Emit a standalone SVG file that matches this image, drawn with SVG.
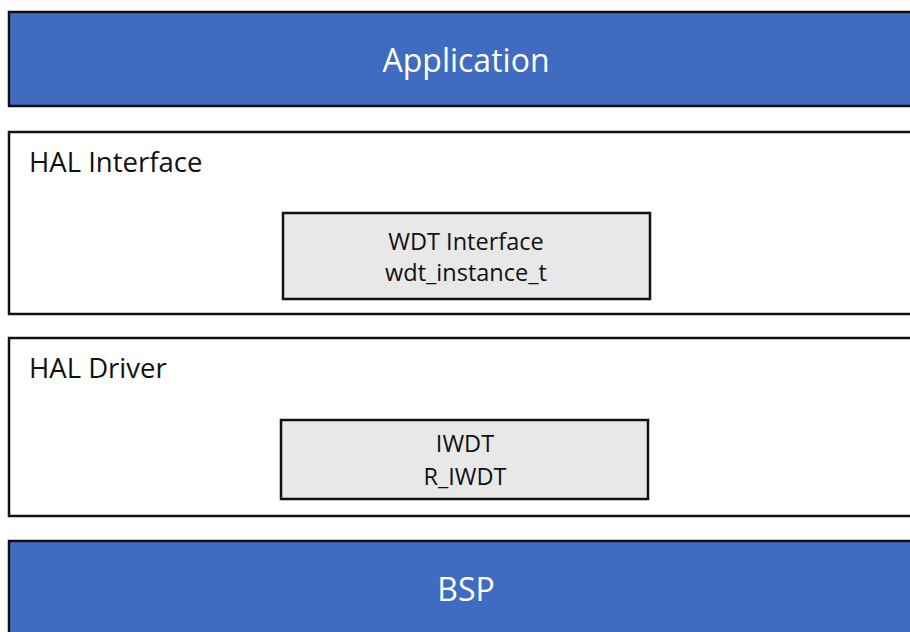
<svg xmlns="http://www.w3.org/2000/svg" width="910" height="632" viewBox="0 0 910 632">
<style>
.band{fill:#3f6cc1;stroke:#111;stroke-width:2.5}
.layer{fill:#fff;stroke:#111;stroke-width:2.5}
.mod{fill:#e8e8e8;stroke:#111;stroke-width:2.5}
text{font-family:"Open Sans","Noto Sans","Liberation Sans",sans-serif}
.bt{fill:#fff;font-size:32px;text-anchor:middle}
.lt{fill:#111;font-size:27.5px}
.mt{fill:#111;font-size:23.5px;text-anchor:middle}
</style>
<rect width="910" height="632" fill="#fff"/>
<g id="application">
<rect class="band" x="9" y="12" width="910" height="94"/>
<text class="bt" x="466" y="72">Application</text>
</g>
<g id="hal-interface">
<rect class="layer" x="9" y="132" width="910" height="182"/>
<text class="lt" x="29" y="172">HAL Interface</text>
</g>
<g id="wdt-interface">
<rect class="mod" x="283" y="213" width="367" height="86"/>
<text class="mt" x="466" y="250">WDT Interface</text>
<text class="mt" x="466" y="281">wdt_instance_t</text>
</g>
<g id="hal-driver">
<rect class="layer" x="9" y="338" width="910" height="178"/>
<text class="lt" x="29" y="378">HAL Driver</text>
</g>
<g id="iwdt">
<rect class="mod" x="281" y="420" width="367" height="79"/>
<text class="mt" x="465" y="452">IWDT</text>
<text class="mt" x="465" y="485">R_IWDT</text>
</g>
<g id="bsp">
<rect class="band" x="9" y="541" width="910" height="100"/>
<text class="bt" x="466" y="601">BSP</text>
</g>
<g id="connectors"></g>
</svg>
